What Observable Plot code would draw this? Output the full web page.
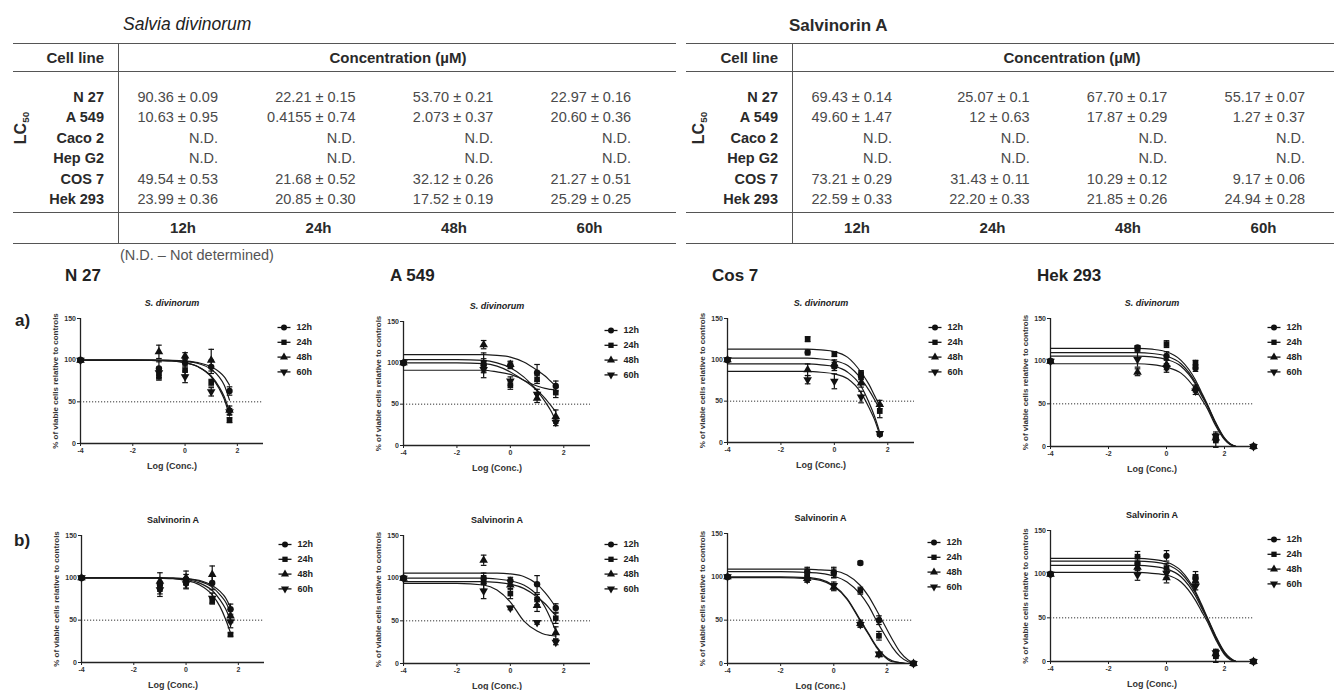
<!DOCTYPE html>
<html><head><meta charset="utf-8">
<script src="https://cdn.jsdelivr.net/npm/d3@7"></script>
<script src="https://cdn.jsdelivr.net/npm/@observablehq/plot@0.6"></script>
<style>
body{margin:0;background:#fff;}
#root{position:relative;width:1334px;height:690px;overflow:hidden;font-family:"Liberation Sans",Arial,sans-serif;color:#222;}
.t{position:absolute;white-space:nowrap;line-height:1;}
.hl{position:absolute;height:0;border-top:1.5px solid #555;}
.vl{position:absolute;width:0;border-left:1.5px solid #555;}
.pl{position:absolute;}
sub{font-size:0.62em;vertical-align:-0.25em;}
</style></head><body><div id="root"></div>
<script>
// ---------------- DATA ----------------
const timepoints = ["12h", "24h", "48h", "60h"];
const cellLines = ["N 27", "A 549", "Caco 2", "Hep G2", "COS 7", "Hek 293"];
const sdLC50 = [
  ["90.36 ± 0.09", "22.21 ± 0.15", "53.70 ± 0.21", "22.97 ± 0.16"],
  ["10.63 ± 0.95", "0.4155 ± 0.74", "2.073 ± 0.37", "20.60 ± 0.36"],
  ["N.D.", "N.D.", "N.D.", "N.D."],
  ["N.D.", "N.D.", "N.D.", "N.D."],
  ["49.54 ± 0.53", "21.68 ± 0.52", "32.12 ± 0.26", "21.27 ± 0.51"],
  ["23.99 ± 0.36", "20.85 ± 0.30", "17.52 ± 0.19", "25.29 ± 0.25"]
];
const saLC50 = [
  ["69.43 ± 0.14", "25.07 ± 0.1", "67.70 ± 0.17", "55.17 ± 0.07"],
  ["49.60 ± 1.47", "12 ± 0.63", "17.87 ± 0.29", "1.27 ± 0.37"],
  ["N.D.", "N.D.", "N.D.", "N.D."],
  ["N.D.", "N.D.", "N.D.", "N.D."],
  ["73.21 ± 0.29", "31.43 ± 0.11", "10.29 ± 0.12", "9.17 ± 0.06"],
  ["22.59 ± 0.33", "22.20 ± 0.33", "21.85 ± 0.26", "24.94 ± 0.28"]
];
const panelTitles = ["N 27", "A 549", "Cos 7", "Hek 293"];
const rowLabels = ["a)", "b)"];
const subtitles = ["S. divinorum", "Salvinorin A"];
const yTicks = [0, 50, 100, 150];
const xTicks = [-4, -2, 0, 2];

// log concentrations of the measured points
const logConc = [-4, -1, 0, 1, 1.7];
const logConcExt = [-4, -1, 0, 1, 1.7, 3];
// x positions of the points
const fitShort = [-4, -2, -1, -0.5, 0, 0.5, 1, 1.3, 1.5, 1.7];
const fitLong = [-4, -2, -1, -0.5, 0, 0.5, 1, 1.2, 1.4, 1.7, 2, 2.2, 2.4];
const fitCos = [-4, -2, -1, -0.5, 0, 0.5, 1, 1.3, 1.6, 1.9, 2.2, 2.5, 2.8, 3];

// N 27 - S. divinorum (series order 12h, 24h, 48h, 60h)
const n27SdMean = [[100, 90, 97, 92, 63], [100, 80, 88, 73, 28], [100, 110, 105, 100, 40], [100, 85, 80, 62, 38]];
const n27SdErr = [[0, 8, 5, 8, 5], [0, 4, 6, 4, 3], [0, 8, 4, 13, 5], [0, 6, 7, 5, 4]];
const n27SdFit = [[100, 100, 100, 99.8, 99, 97, 92, 86, 80, 70], [100, 100, 99.5, 99, 97, 92, 80, 66, 53, 33],
  [100, 100, 100, 99.5, 98.5, 96, 89, 80, 70, 52], [100, 100, 99.5, 99, 97, 92, 81, 68, 56, 38]];
// A 549 - S. divinorum
const a549SdMean = [[100, 97, 97, 88, 72], [100, 100, 73, 80, 64], [100, 122, 98, 57, 35], [100, 92, 78, 62, 28]];
const a549SdErr = [[0, 8, 4, 10, 6], [0, 12, 5, 5, 6], [0, 5, 4, 5, 8], [0, 10, 5, 6, 4]];
const a549SdFit = [[110, 110, 110, 109, 107, 101, 91, 84, 78, 72], [100, 100, 99, 96, 89, 79, 72, 69, 68, 67],
  [104, 104, 103, 100, 94, 83, 67, 57, 49, 41], [91, 91, 91, 89, 86, 79, 66, 53, 43, 30]];
// Cos 7 - S. divinorum
const cos7SdMean = [[100, 109, 92, 80, 10], [100, 125, 107, 83, 38], [100, 88, 95, 72, 46], [100, 76, 74, 55, 11]];
const cos7SdErr = [[0, 3, 5, 4, 2], [0, 3, 3, 4, 8], [0, 7, 5, 5, 5], [0, 5, 9, 7, 2]];
const cos7SdFit = [[95, 95, 95, 94, 92, 85, 68, 48, 32, 12], [113, 113, 113, 112, 110, 103, 85, 70, 57, 44],
  [102, 102, 102, 101, 99, 93, 77, 63, 52, 40], [86, 86, 86, 85, 83, 77, 60, 42, 28, 9]];
// Hek 293 - S. divinorum
const hekSdMean = [[100, 116, 106, 92, 10, 0], [100, 115, 120, 98, 7, 0], [100, 87, 96, 68, 10, 0], [100, 102, 92, 65, 12, 0]];
const hekSdErr = [[0, 2, 5, 4, 4, 0], [0, 3, 4, 3, 8, 0], [0, 4, 6, 4, 3, 0], [0, 9, 5, 4, 5, 0]];
const hekSdFit = [[110, 110, 110, 109, 106, 97, 75, 62, 49, 27, 9, 3, 0], [115, 115, 115, 114, 111, 101, 78, 64, 50, 28, 10, 3, 0],
  [97, 97, 97, 96, 93, 86, 67, 56, 45, 24, 8, 2, 0], [106, 106, 106, 105, 102, 94, 73, 60, 48, 26, 9, 3, 0]];
// N 27 - Salvinorin A
const n27SaMean = [[100, 92, 98, 94, 63], [100, 88, 94, 73, 33], [100, 96, 100, 104, 55], [100, 86, 93, 76, 48]];
const n27SaErr = [[0, 8, 6, 8, 6], [0, 7, 6, 4, 2], [0, 10, 8, 10, 8], [0, 8, 6, 6, 7]];
const n27SaFit = [[100, 100, 100, 99.8, 99, 97, 91, 84, 77, 65], [100, 100, 99.5, 99, 97, 92, 80, 66, 52, 35],
  [100, 100, 100, 99.6, 99, 96, 89, 80, 72, 59], [100, 100, 99.8, 99.3, 98, 94, 85, 74, 64, 50]];
// A 549 - Salvinorin A
const a549SaMean = [[100, 100, 97, 93, 65], [100, 95, 82, 75, 53], [100, 121, 92, 68, 36], [100, 85, 65, 48, 25]];
const a549SaErr = [[0, 6, 4, 10, 5], [0, 8, 6, 6, 6], [0, 6, 5, 7, 7], [0, 9, 2, 2, 3]];
const a549SaFit = [[106, 106, 106, 106, 105, 102, 93, 83, 75, 66], [96, 96, 96, 95, 93, 88, 78, 70, 63, 56],
  [100, 100, 100, 99, 97, 92, 80, 66, 53, 38], [94, 94, 92, 86, 72, 50, 38, 34, 33, 32]];
// Cos 7 - Salvinorin A
const cos7SaMean = [[100, 106, 105, 116, 50, 0], [100, 103, 104, 84, 32, 0], [100, 98, 88, 46, 10, 0], [100, 97, 90, 45, 11, 0]];
const cos7SaErr = [[0, 5, 6, 2, 5, 0], [0, 6, 5, 4, 5, 0], [0, 4, 4, 4, 2, 0], [0, 3, 4, 3, 2, 0]];
const cos7SaFit = [[109, 109, 109, 108, 107, 102, 90, 78, 62, 45, 28, 13, 4, 1], [106, 106, 105, 104, 101, 94, 80, 67, 50, 34, 19, 8, 2, 0],
  [100, 100, 99, 97, 90, 75, 50, 35, 20, 9, 3, 1, 0, 0], [99, 99, 98, 96, 89, 74, 49, 34, 19, 8, 2, 1, 0, 0]];
// Hek 293 - Salvinorin A
const hekSaMean = [[100, 112, 121, 95, 8, 0], [100, 120, 107, 97, 6, 0], [100, 108, 96, 92, 9, 0], [100, 99, 101, 86, 10, 0]];
const hekSaErr = [[0, 8, 6, 4, 4, 0], [0, 6, 5, 6, 7, 0], [0, 7, 6, 5, 4, 0], [0, 6, 5, 4, 4, 0]];
const hekSaFit = [[118, 118, 118, 117, 114, 104, 80, 66, 51, 29, 11, 4, 0], [115, 115, 115, 114, 111, 101, 78, 64, 50, 28, 10, 3, 0],
  [110, 110, 110, 109, 106, 97, 75, 62, 49, 27, 9, 3, 0], [102, 102, 102, 101, 99, 91, 70, 58, 46, 25, 8, 2, 0]];

// ---------------- LAYOUT ----------------
const root = document.getElementById("root");
function txt(s, x, y, css = {}, anchor = "start", rot = 0) {
  const d = document.createElement("div");
  d.className = "t"; d.innerHTML = s;
  Object.assign(d.style, css);
  d.style.left = x + "px"; d.style.top = y + "px";
  const tx = anchor === "middle" ? "-50%" : anchor === "end" ? "-100%" : "0";
  d.style.transform = `translate(${tx},-50%)` + (rot ? ` rotate(${rot}deg)` : "");
  if (rot) d.style.transformOrigin = "50% 50%";
  root.appendChild(d);
}
function hline(x1, x2, y) {
  const d = document.createElement("div"); d.className = "hl";
  d.style.left = x1 + "px"; d.style.width = (x2 - x1) + "px"; d.style.top = y + "px"; root.appendChild(d);
}
function vline(x, y1, y2) {
  const d = document.createElement("div"); d.className = "vl";
  d.style.left = x + "px"; d.style.top = y1 + "px"; d.style.height = (y2 - y1) + "px"; root.appendChild(d);
}

function table(t) {
  [43, 71, 212, 243].forEach(y => hline(t.x1, t.x2, y));
  vline(t.v, 43, 244);
  txt(t.title, t.titleX, 25, t.titleCss);
  const hb = {fontSize: "15px", fontWeight: "bold", color: "#2a2a2a"};
  txt("Cell line", t.v - 14, 57, hb, "end");
  txt("Concentration (µM)", t.v + 280, 57, hb, "middle");
  txt("LC<sub>50</sub>", t.lcX, 128, {fontSize: "16px", fontWeight: "bold", color: "#2a2a2a"}, "middle", -90);
  cellLines.forEach((c, r) => {
    const y = 97 + r * 20.4;
    txt(c, t.v - 14, y, {fontSize: "14.5px", fontWeight: "bold", color: "#2a2a2a"}, "end");
    t.values[r].forEach((v, i) => txt(v, t.v + 100 + 137.7 * i, y, {fontSize: "14.5px", color: "#4a4a4a"}, "end"));
  });
  timepoints.forEach((h, i) => txt(h, t.v + 65 + 135.5 * i, 227, hb, "middle"));
}
table({x1: 13, x2: 676, v: 118, title: "Salvia divinorum", titleX: 123,
  titleCss: {fontSize: "17.5px", fontStyle: "italic", color: "#222"}, lcX: 22, values: sdLC50});
table({x1: 686, x2: 1334, v: 792, title: "Salvinorin A", titleX: 789,
  titleCss: {fontSize: "17px", fontWeight: "bold", color: "#2a2a2a"}, lcX: 700, values: saLC50});
txt("(N.D. – Not determined)", 120, 255, {fontSize: "14.5px", color: "#555"});

// panel titles and row labels
[65, 390, 712, 1037].forEach((x, i) => txt(panelTitles[i], x, 275, {fontSize: "17px", fontWeight: "bold", color: "#222"}));
txt(rowLabels[0], 15, 320, {fontSize: "17px", fontWeight: "bold", color: "#222"});
txt(rowLabels[1], 14, 540, {fontSize: "17px", fontWeight: "bold", color: "#222"});

// symbols
const triDown = {draw(ctx, size) {
  const s = Math.sqrt(size / (Math.sqrt(3) * 3)), k = Math.sqrt(3);
  ctx.moveTo(0, 2 * s); ctx.lineTo(-k * s, -s); ctx.lineTo(k * s, -s); ctx.closePath();
}};
const capSym = {draw(ctx, size) { const r = Math.sqrt(size / Math.PI); ctx.moveTo(-r, 0); ctx.lineTo(r, 0); }};
const seriesSymbols = ["circle", "square", "triangle", triDown];

const panels = [
  {L: 80, R: 263, T: 318, B: 443, xs: logConc, mean: n27SdMean, err: n27SdErr, fx: fitShort, fit: n27SdFit, sub: 0},
  {L: 403, R: 590, T: 321, B: 445, xs: logConc, mean: a549SdMean, err: a549SdErr, fx: fitShort, fit: a549SdFit, sub: 0},
  {L: 727, R: 914, T: 318, B: 442, xs: logConc, mean: cos7SdMean, err: cos7SdErr, fx: fitShort, fit: cos7SdFit, sub: 0},
  {L: 1050, R: 1253, T: 318, B: 446, xs: logConcExt, mean: hekSdMean, err: hekSdErr, fx: fitLong, fit: hekSdFit, sub: 0},
  {L: 81, R: 264, T: 535, B: 662, xs: logConc, mean: n27SaMean, err: n27SaErr, fx: fitShort, fit: n27SaFit, sub: 1},
  {L: 403, R: 590, T: 535, B: 663, xs: logConc, mean: a549SaMean, err: a549SaErr, fx: fitShort, fit: a549SaFit, sub: 1},
  {L: 727, R: 913, T: 533, B: 663, xs: logConcExt, mean: cos7SaMean, err: cos7SaErr, fx: fitCos, fit: cos7SaFit, sub: 1},
  {L: 1050, R: 1253, T: 530, B: 661, xs: logConcExt, mean: hekSaMean, err: hekSaErr, fx: fitLong, fit: hekSaFit, sub: 1}
];

function panel(p) {
  const ML = 50, MR = 80, MT = 32, MB = 34;
  const w = p.R - p.L, h = p.B - p.T;
  const ux = 7 / w, uy = 150 / h;
  const fitData = [], bars = [], caps = [];
  const pts = [[], [], [], []];
  p.fit.forEach((arr, s) => arr.forEach((v, i) => fitData.push({x: p.fx[i], y: v, s})));
  p.mean.forEach((arr, s) => arr.forEach((v, i) => {
    pts[s].push({x: p.xs[i], y: v});
    const e = p.err[s][i];
    if (e > 0) {
      bars.push({x: p.xs[i], y1: v - e, y2: v + e});
      caps.push({x: p.xs[i], y: v - e}, {x: p.xs[i], y: v + e});
    }
  }));
  const leg = timepoints.map((lab, i) => {
    const y = 150 - (9 + i * 14.8) * uy;
    return {label: lab, y, x1: 3 + 14 * ux, x2: 3 + 27 * ux, xm: 3 + 20.5 * ux, xt: 3 + 33 * ux};
  });
  const italic = p.sub === 0;
  const marks = [
    Plot.ruleY([{y: 50, x1: -4, x2: 3}], {y: "y", x1: "x1", x2: "x2", stroke: "#333", strokeWidth: 1, strokeDasharray: "1.2,1.8"}),
    Plot.axisY({ticks: yTicks, tickSize: 3, tickPadding: 1.5, label: null, fontSize: 7, fontWeight: "bold", fill: "#333", stroke: "#222"}),
    Plot.axisX({ticks: xTicks, tickSize: 3, tickPadding: 2, label: null, fontSize: 7, fontWeight: "bold", fill: "#333", stroke: "#222", tickFormat: d => d < 0 ? "-" + Math.abs(d) : String(d)}),
    Plot.ruleX([{x: -4, y1: 0, y2: 150}], {x: "x", y1: "y1", y2: "y2", stroke: "#222", strokeWidth: 1.3}),
    Plot.ruleY([{y: 0, x1: -4, x2: 3}], {y: "y", x1: "x1", x2: "x2", stroke: "#222", strokeWidth: 1.3}),
    Plot.line(fitData, {x: "x", y: "y", z: "s", curve: "monotone-x", stroke: "#1a1a1a", strokeWidth: 1.2}),
    Plot.ruleX(bars, {x: "x", y1: "y1", y2: "y2", stroke: "#111", strokeWidth: 1.2}),
    Plot.dot(caps, {x: "x", y: "y", symbol: capSym, r: 2.8, stroke: "#111", strokeWidth: 1.2, fill: "none"}),
    ...pts.map((d, s) => Plot.dot(d, {x: "x", y: "y", symbol: seriesSymbols[s], r: 3.2, fill: "#111", stroke: "none"})),
    Plot.link(leg, {x1: "x1", x2: "x2", y1: "y", y2: "y", stroke: "#111", strokeWidth: 1.3}),
    ...leg.map((d, s) => Plot.dot([d], {x: "xm", y: "y", symbol: seriesSymbols[s], r: 3, fill: "#111", stroke: "none"})),
    Plot.text(leg, {x: "xt", y: "y", text: "label", textAnchor: "start", fontSize: 9, fontWeight: "bold", fill: "#222"}),
    Plot.text([subtitles[p.sub]], {frameAnchor: "top", dy: -19, fontSize: 9, fontWeight: "bold", fontStyle: italic ? "italic" : "normal", fill: "#222"}),
    Plot.text(["% of viable cells relative to controls"], {frameAnchor: "left", textAnchor: "middle", rotate: -90, dx: -25, fontSize: 8, fontWeight: "bold", fill: "#333"}),
    Plot.text(["Log (Conc.)"], {frameAnchor: "bottom", dy: 25, fontSize: 9, fontWeight: "bold", fill: "#333"})
  ];
  const svg = Plot.plot({
    width: ML + w + MR, height: MT + h + MB,
    marginLeft: ML, marginRight: MR, marginTop: MT, marginBottom: MB,
    x: {domain: [-4, 3]}, y: {domain: [0, 150]},
    style: {fontFamily: "'Liberation Sans', Arial, sans-serif", fontSize: "7px", background: "transparent", color: "#222", overflow: "visible"},
    marks
  });
  svg.classList.add("pl");
  svg.style.left = (p.L - ML) + "px";
  svg.style.top = (p.T - MT) + "px";
  root.appendChild(svg);
}
panels.forEach(panel);
</script></body></html>
